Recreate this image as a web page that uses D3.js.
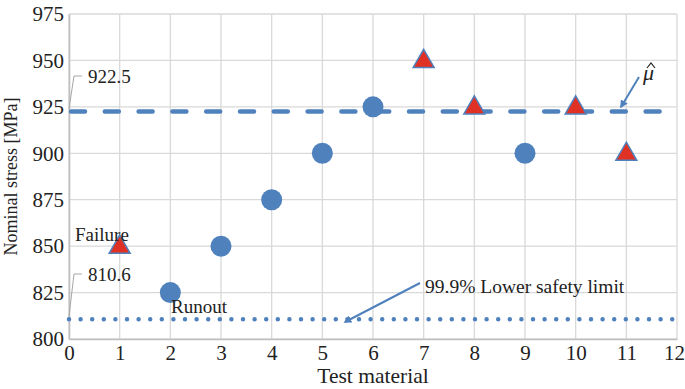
<!DOCTYPE html>
<html>
<head>
<meta charset="utf-8">
<script src="https://cdn.jsdelivr.net/npm/d3@7"></script>
<style>
  body { margin: 0; background: #fff; }
  svg text { font-family: 'Times New Roman', 'Liberation Serif', 'DejaVu Serif', serif; fill: #222; }
</style>
</head>
<body>
<div id="chart"></div>
<script>
// test results (staircase)
const tests = [1, 2, 3, 4, 5, 6, 7, 8, 9, 10, 11]
const stress = [850, 825, 850, 875, 900, 925, 950, 925, 900, 925, 900]
const outcome = ['F', 'R', 'R', 'R', 'R', 'R', 'F', 'F', 'R', 'F', 'F']
const meanStress = 922.5
const lowerLimit = 810.6
const xTicks = [0, 1, 2, 3, 4, 5, 6, 7, 8, 9, 10, 11, 12]
const yTicks = [800, 825, 850, 875, 900, 925, 950, 975]

const w = 685, h = 389
const margin = { left: 69, right: 8, top: 14, bottom: 50 }
const blue = '#4f81bd', red = '#e03125', grid = '#d9d9d9'
const serif = "'Times New Roman', 'Liberation Serif', serif"

const svg = d3.select('#chart').append('svg').attr('width', w).attr('height', h)

const x = d3.scaleLinear().domain([0, 12]).range([margin.left, w - margin.right])
const y = d3.scaleLinear().domain([800, 975]).range([h - margin.bottom, margin.top])

// grid
svg.append('g').selectAll('line').data(xTicks).enter().append('line')
  .attr('x1', d => x(d)).attr('x2', d => x(d))
  .attr('y1', y(800)).attr('y2', y(975))
  .attr('stroke', grid).attr('stroke-width', 1.3)
svg.append('g').selectAll('line').data(yTicks).enter().append('line')
  .attr('x1', x(0)).attr('x2', x(12))
  .attr('y1', d => y(d)).attr('y2', d => y(d))
  .attr('stroke', grid).attr('stroke-width', 1.3)

// axes
let xAxis = svg.append('g').attr('transform', `translate(0,${y(800)})`)
  .call(d3.axisBottom(x).tickValues(xTicks).tickSize(0).tickPadding(6).tickFormat(d3.format('d')))
let yAxis = svg.append('g').attr('transform', `translate(${x(0)},0)`)
  .call(d3.axisLeft(y).tickValues(yTicks).tickSize(0).tickPadding(5))
;[xAxis, yAxis].forEach(a => {
  a.attr('font-family', serif).attr('font-size', 21)
  a.select('.domain').attr('stroke', '#bfbfbf').attr('stroke-width', 1.6)
  a.selectAll('text').attr('fill', '#222')
})
xAxis.selectAll('.tick').filter(d => d === 12).select('text').attr('dx', -3)

svg.append('text').text('Test material')
  .attr('x', 373).attr('y', 383)
  .attr('text-anchor', 'middle').attr('font-size', '21.5px')
svg.append('text').text('Nominal stress [MPa]')
  .attr('transform', `translate(17,${(y(800) + y(975)) / 2}) rotate(-90)`)
  .attr('text-anchor', 'middle').attr('font-size', '18px')

// mean and lower limit lines
svg.append('line')
  .attr('x1', x(0)).attr('x2', x(12)).attr('y1', y(meanStress)).attr('y2', y(meanStress))
  .attr('stroke', blue).attr('stroke-width', 4.5).attr('stroke-linecap', 'round')
  .attr('stroke-dasharray', '14,19.8').attr('transform', 'translate(2,0)')
svg.append('line')
  .attr('x1', x(0)).attr('x2', x(12)).attr('y1', y(lowerLimit)).attr('y2', y(lowerLimit))
  .attr('stroke', blue).attr('stroke-width', 4.5).attr('stroke-linecap', 'round')
  .attr('stroke-dasharray', '0,11.6')

// value labels with leader lines
function valueLabel (v, ty) {
  svg.append('path')
    .attr('d', `M${x(0)},${y(v) - 3}L${x(0) + 5},${ty - 7}H${x(0) + 13}`)
    .attr('fill', 'none').attr('stroke', '#a6a6a6').attr('stroke-width', 1)
  svg.append('text').text(v.toFixed(1))
    .attr('x', x(0) + 19).attr('y', ty).attr('font-size', '19px')
}
valueLabel(meanStress, 83)
valueLabel(lowerLimit, 281)

// points
let pts = tests.map((t, i) => ({ t, s: stress[i], o: outcome[i] }))
svg.append('g').selectAll('circle').data(pts.filter(d => d.o === 'R')).enter().append('circle')
  .attr('cx', d => x(d.t)).attr('cy', d => y(d.s)).attr('r', 10.5).attr('fill', blue)
let tri = d3.symbol().type(d3.symbolTriangle).size(190)
svg.append('g').selectAll('path').data(pts.filter(d => d.o === 'F')).enter().append('path')
  .attr('d', tri).attr('transform', d => `translate(${x(d.t)},${y(d.s) + 1})`)
  .attr('fill', red).attr('stroke', blue).attr('stroke-width', 1.5)

svg.append('text').text('Failure').attr('x', 75).attr('y', 241).attr('font-size', '19px')
svg.append('text').text('Runout').attr('x', 171).attr('y', 313).attr('font-size', '19px')

// arrows
let defs = svg.append('defs')
defs.append('marker').attr('id', 'arr').attr('viewBox', '0 0 10 10').attr('refX', 8).attr('refY', 5)
  .attr('markerWidth', 4).attr('markerHeight', 4).attr('orient', 'auto')
  .append('path').attr('d', 'M0,0L10,5L0,10z').attr('fill', blue)

svg.append('line').attr('x1', 420).attr('y1', 283).attr('x2', 345).attr('y2', 322)
  .attr('stroke', blue).attr('stroke-width', 2).attr('marker-end', 'url(#arr)')
svg.append('text').text('99.9% Lower safety limit').attr('x', 425).attr('y', 293).attr('font-size', '19.5px')

svg.append('line').attr('x1', 639).attr('y1', 77).attr('x2', 621).attr('y2', 107)
  .attr('stroke', blue).attr('stroke-width', 2).attr('marker-end', 'url(#arr)')
svg.append('text').text('μ').attr('x', 643).attr('y', 80)
  .attr('font-size', '22px').attr('font-style', 'italic')
svg.append('path').attr('d', 'M647,68L651,63L655,68')
  .attr('fill', 'none').attr('stroke', '#222').attr('stroke-width', 1.2)
</script>
</body>
</html>
